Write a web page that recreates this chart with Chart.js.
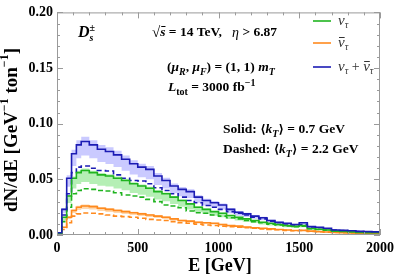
<!DOCTYPE html>
<html>
<head>
<meta charset="utf-8">
<script src="https://cdn.jsdelivr.net/npm/chart.js@4"></script>
<style>
  html, body { margin: 0; padding: 0; background: #fff; }
  #wrap { width: 399px; height: 279px; }
</style>
</head>
<body>
<div id="wrap"><canvas id="c" width="399" height="279"></canvas></div>
<script>
// bin edges in GeV
const binEdges = [0, 30, 60, 90, 120, 150, 200, 250, 300, 350, 400, 450, 500, 550, 600, 650, 700, 750, 800, 850, 900, 950,
    1000, 1050, 1100, 1150, 1200, 1250, 1300, 1350, 1400, 1450, 1500, 1550, 1600, 1650, 1700, 1750, 1800, 1850, 1900, 1950, 2000];

// solid: <kT> = 0.7 GeV
const sumSolid = [.002, .023, .051, .073, .081, .084, .081, .077, .075, .072, .068, .064, .061, .059, .053, .049, .044, .041, .039, .034, .031, .029,
    .027, .023, .0205, .019, .017, .0155, .013, .0115, .0105, .0095, .011, .0075, .007, .006, .0045, .0042, .0038, .0033, .003, .0028];
const nuSolid = [.0015, .016, .035, .051, .056, .058, .056, .054, .053, .051, .049, .046, .044, .042, .039, .037, .034, .031, .028, .025, .023, .021,
    .0195, .0175, .016, .0145, .013, .0115, .0105, .0095, .0085, .0078, .0085, .0058, .0052, .0045, .0035, .0032, .0028, .0024, .0021, .002];
const nubarSolid = [.0005, .007, .016, .022, .025, .026, .0255, .024, .023, .022, .021, .020, .019, .018, .017, .016, .0145, .013, .0125, .0115, .011, .0105,
    .0095, .0085, .008, .0072, .0065, .006, .0055, .005, .0045, .004, .0042, .0035, .003, .0027, .0024, .0021, .0019, .0017, .0015, .0013];

// dashed: <kT> = 2.2 GeV
const sumDashed = [.001, .018, .037, .056, .061, .062, .060, .058, .0575, .054, .051, .049, .0485, .046, .0425, .040, .037, .034, .031, .029, .0265, .025,
    .023, .021, .0195, .018, .016, .0145, .0125, .011, .010, .009, .0095, .0072, .0065, .0056, .0044, .004, .0036, .0032, .0029, .0027];
const nuDashed = [.0008, .012, .025, .037, .040, .0415, .041, .040, .0395, .038, .036, .035, .034, .032, .030, .027, .026, .0245, .0215, .020, .0195, .018,
    .017, .0155, .0145, .013, .012, .011, .0098, .009, .0082, .0075, .0078, .0056, .005, .0044, .0035, .0031, .0027, .0023, .002, .0019];
const nubarDashed = [.0003, .005, .011, .017, .019, .0198, .0195, .019, .018, .017, .0165, .016, .015, .014, .0135, .013, .012, .011, .0105, .0098, .009, .0085,
    .008, .0075, .007, .0065, .006, .0055, .005, .0047, .0042, .0038, .004, .0033, .0029, .0026, .0023, .002, .0018, .0016, .0014, .0013];

// scale-variation bands around the solid curves
const sumLow = [.0017, .0196, .0434, .062, .069, .0714, .0689, .0655, .0638, .0612, .0578, .0544, .0519, .0502, .045, .0417, .0374, .0349, .0332, .0289, .0264, .0247,
    .023, .0196, .0174, .0162, .0145, .0132, .0111, .0098, .0089, .0081, .0094, .0064, .006, .0051, .0038, .0036, .0032, .0028, .0026, .0024];
const sumHigh = [.0021, .0242, .0536, .0767, .0851, .0882, .0851, .0809, .0788, .0756, .0714, .0672, .0641, .062, .0557, .0515, .0462, .0431, .041, .0357, .0326, .0305,
    .0284, .0242, .0215, .02, .0179, .0163, .0137, .0121, .011, .01, .0116, .0079, .0074, .0063, .0047, .0044, .004, .0035, .0032, .0029];
const nuLow = [.0012, .0131, .0287, .0418, .0459, .0476, .0459, .0443, .0435, .0418, .0402, .0377, .0361, .0344, .032, .0303, .0279, .0254, .023, .0205, .0189, .0172,
    .016, .0144, .0131, .0119, .0107, .0094, .0086, .0078, .007, .0064, .007, .0048, .0043, .0037, .0029, .0026, .0023, .002, .0017, .0016];
const nuHigh = [.0015, .0165, .036, .0525, .0577, .0597, .0577, .0556, .0546, .0525, .0505, .0474, .0453, .0433, .0402, .0381, .035, .0319, .0288, .0258, .0237, .0216,
    .0201, .018, .0165, .0149, .0134, .0118, .0108, .0098, .0088, .008, .0088, .006, .0054, .0046, .0036, .0033, .0029, .0025, .0022, .0021];
const nubarLow = [.0005, .0063, .0144, .0198, .0225, .0234, .023, .0216, .0207, .0198, .0189, .018, .0171, .0162, .0153, .0144, .013, .0117, .0113, .0104, .0099, .0095,
    .0086, .0077, .0072, .0065, .0059, .0054, .005, .0045, .0041, .0036, .0038, .0032, .0027, .0024, .0022, .0019, .0017, .0015, .0014, .0012];
const nubarHigh = [.0005, .0074, .0168, .0231, .0263, .0273, .0268, .0252, .0242, .0231, .0221, .021, .02, .0189, .0179, .0168, .0152, .0137, .0131, .0121, .0116, .011,
    .01, .0089, .0084, .0076, .0068, .0063, .0058, .0053, .0047, .0042, .0044, .0037, .0032, .0028, .0025, .0022, .002, .0018, .0016, .0014];

const yTicks = [0, 0.05, 0.10, 0.15, 0.20];
const xTicks = [0, 500, 1000, 1500, 2000];

const GREEN = '#1fb41f';
const ORANGE = '#ff8a1e';
const BLUE = '#1c1cb4';
const SERIF = '"Liberation Serif", "DejaVu Serif", serif';

// turn bin values into step points (value held until next edge)
let toSteps = function(vals) {
    let pts = [];
    for (let i = 0; i < vals.length; i++) {
        pts.push({x: binEdges[i], y: vals[i]});
    }
    pts.push({x: binEdges[binEdges.length - 1], y: vals[vals.length - 1]});
    return pts;
}

let line = function(vals, color, dashed, order) {
    return {
        data: toSteps(vals),
        borderColor: color,
        borderWidth: 1.6,
        borderDash: dashed ? [5, 3] : [],
        stepped: true,
        pointRadius: 0,
        fill: false,
        order: order
    };
}

let band = function(vals, fillColor, withNext) {
    return {
        data: toSteps(vals),
        borderWidth: 0,
        borderColor: 'rgba(0,0,0,0)',
        backgroundColor: fillColor,
        stepped: true,
        pointRadius: 0,
        fill: withNext ? '+1' : false,
        order: 10
    };
}

// draw a run of text pieces: [text, font, dy, advance?, overline offset]
let rich = function(ctx, x, y, parts, align) {
    let total = 0;
    for (let p of parts) {
        ctx.font = p[1];
        if (p[3] !== false) total += ctx.measureText(p[0]).width;
    }
    let cx = align === 'center' ? x - total / 2 : x;
    for (let p of parts) {
        ctx.font = p[1];
        ctx.fillText(p[0], cx, y + (p[2] || 0));
        if (p[4]) {
            let w = ctx.measureText(p[0]).width;
            ctx.fillRect(cx + 1, y + (p[2] || 0) + p[4], w - 1, 1);
        }
        if (p[3] !== false) cx += ctx.measureText(p[0]).width;
    }
}

let decorPlugin = {
    id: 'decor',
    afterDraw: function(chart) {
        let ctx = chart.ctx;
        let xs = chart.scales.x, ys = chart.scales.y;
        let a = chart.chartArea;
        ctx.save();

        // frame with inward ticks
        ctx.strokeStyle = '#9a9a9a';
        ctx.lineWidth = 1;
        ctx.strokeRect(a.left + 0.5, a.top + 0.5, a.right - a.left - 1, a.bottom - a.top - 1);
        ctx.beginPath();
        for (let v = 0; v <= 2000; v += 100) {
            let px = Math.round(xs.getPixelForValue(v)) + 0.5;
            let len = v % 500 == 0 ? 6 : 3;
            ctx.moveTo(px, a.bottom); ctx.lineTo(px, a.bottom - len);
            ctx.moveTo(px, a.top); ctx.lineTo(px, a.top + len);
        }
        for (let k = 0; k <= 20; k++) {
            let py = Math.round(ys.getPixelForValue(k * 0.01)) + 0.5;
            let len = k % 5 == 0 ? 6 : 3;
            ctx.moveTo(a.left, py); ctx.lineTo(a.left + len, py);
            ctx.moveTo(a.right, py); ctx.lineTo(a.right - len, py);
        }
        ctx.stroke();

        ctx.fillStyle = '#000';
        ctx.textBaseline = 'middle';

        // axis titles
        let bt = 'bold 19px ' + SERIF;
        let bs = 'bold 12px ' + SERIF;
        ctx.save();
        ctx.translate(12, 130);
        ctx.rotate(-Math.PI / 2);
        rich(ctx, 0, 0, [['dN/dE [GeV', bt], ['\u22121', bs, -7], [' ton', bt], ['\u22121', bs, -7], [']', bt]], 'center');
        ctx.restore();
        rich(ctx, 220, 266, [['E [GeV]', 'bold 18px ' + SERIF]], 'center');

        // annotations
        let b13 = 'bold 13.5px ' + SERIF;
        let bi13 = 'italic bold 13.5px ' + SERIF;
        let bi9 = 'italic bold 10px ' + SERIF;
        let b9 = 'bold 10px ' + SERIF;
        let br = 'bold 12px ' + SERIF;
        rich(ctx, 78, 33, [['D', 'italic bold 16px ' + SERIF], ['\u00b1', b9, -5, false], ['s', bi9, 5]]);
        rich(ctx, 152, 33, [['\u221a', 'bold 15px ' + SERIF], ['s', bi13, 0, true, -7], [' = 14 TeV,   ', b13], ['\u03b7', 'italic 14px ' + SERIF], [' > 6.87', b13]]);
        rich(ctx, 167, 68, [['(', b13], ['\u03bc', bi13], ['R', bi9, 4], [', ', b13], ['\u03bc', bi13], ['F', bi9, 4], [') = (1, 1) ', b13], ['m', bi13], ['T', bi9, 4]]);
        rich(ctx, 168, 88, [['L', bi13], ['tot', b9, 4], [' = 3000 fb', b13], ['\u22121', b9, -5]]);
        rich(ctx, 223, 130, [['Solid: ', b13], ['\u27e8', br], ['k', bi13], ['T', bi9, 4], ['\u27e9', br], [' = 0.7 GeV', b13]]);
        rich(ctx, 223, 150, [['Dashed: ', b13], ['\u27e8', br], ['k', bi13], ['T', bi9, 4], ['\u27e9', br], [' = 2.2 GeV', b13]]);

        // legend
        let i13 = 'italic 15px ' + SERIF;
        let i9 = 'italic 10px ' + SERIF;
        let legend = [
            [GREEN, 21, [['\u03bd', i13], ['\u03c4', i9, 4]]],
            [ORANGE, 43, [['\u03bd', i13, 0, true, -6], ['\u03c4', i9, 4]]],
            [BLUE, 67, [['\u03bd', i13], ['\u03c4', i9, 4], [' + ', '14px ' + SERIF], ['\u03bd', i13, 0, true, -6], ['\u03c4', i9, 4]]]
        ];
        for (let item of legend) {
            ctx.strokeStyle = item[0];
            ctx.lineWidth = 1.6;
            ctx.beginPath();
            ctx.moveTo(313, item[1]); ctx.lineTo(331, item[1]);
            ctx.stroke();
            ctx.fillStyle = '#333';
            rich(ctx, 338, item[1], item[2]);
        }
        ctx.restore();
    }
}

let main = function() {
    const ctx = document.getElementById('c');
    new Chart(ctx, {
        type: 'line',
        data: {
            datasets: [
                band(sumHigh, 'rgba(150,150,255,0.5)', true),
                band(sumLow, 'rgba(0,0,0,0)', false),
                band(nuHigh, 'rgba(120,225,120,0.55)', true),
                band(nuLow, 'rgba(0,0,0,0)', false),
                band(nubarHigh, 'rgba(255,190,120,0.6)', true),
                band(nubarLow, 'rgba(0,0,0,0)', false),
                line(nubarDashed, ORANGE, true, 5),
                line(nuDashed, GREEN, true, 4),
                line(sumDashed, BLUE, true, 3),
                line(nubarSolid, ORANGE, false, 2),
                line(nuSolid, GREEN, false, 1),
                line(sumSolid, BLUE, false, 0)
            ]
        },
        options: {
            responsive: false,
            animation: false,
            layout: {padding: {top: 7, right: 15, left: 0, bottom: 0}},
            plugins: {legend: {display: false}, tooltip: {enabled: false}},
            scales: {
                x: {
                    type: 'linear',
                    min: 0, max: 2000,
                    afterBuildTicks: function(s) { s.ticks = xTicks.map(v => ({value: v})); },
                    afterFit: function(s) { s.height = 44; },
                    grid: {display: false, drawTicks: false},
                    border: {display: false},
                    ticks: {
                        padding: 5,
                        color: '#000',
                        maxRotation: 0,
                        font: {family: SERIF, weight: 'bold', size: 14},
                        callback: v => String(v)
                    }
                },
                y: {
                    min: 0, max: 0.2,
                    afterBuildTicks: function(s) { s.ticks = yTicks.map(v => ({value: v})); },
                    afterFit: function(s) { s.width = 57; },
                    grid: {display: false, drawTicks: false},
                    border: {display: false},
                    ticks: {
                        padding: 4,
                        color: '#000',
                        font: {family: SERIF, weight: 'bold', size: 14},
                        callback: v => v.toFixed(2)
                    }
                }
            }
        },
        plugins: [decorPlugin]
    });
}

window.onload = main;
</script>
</body>
</html>
